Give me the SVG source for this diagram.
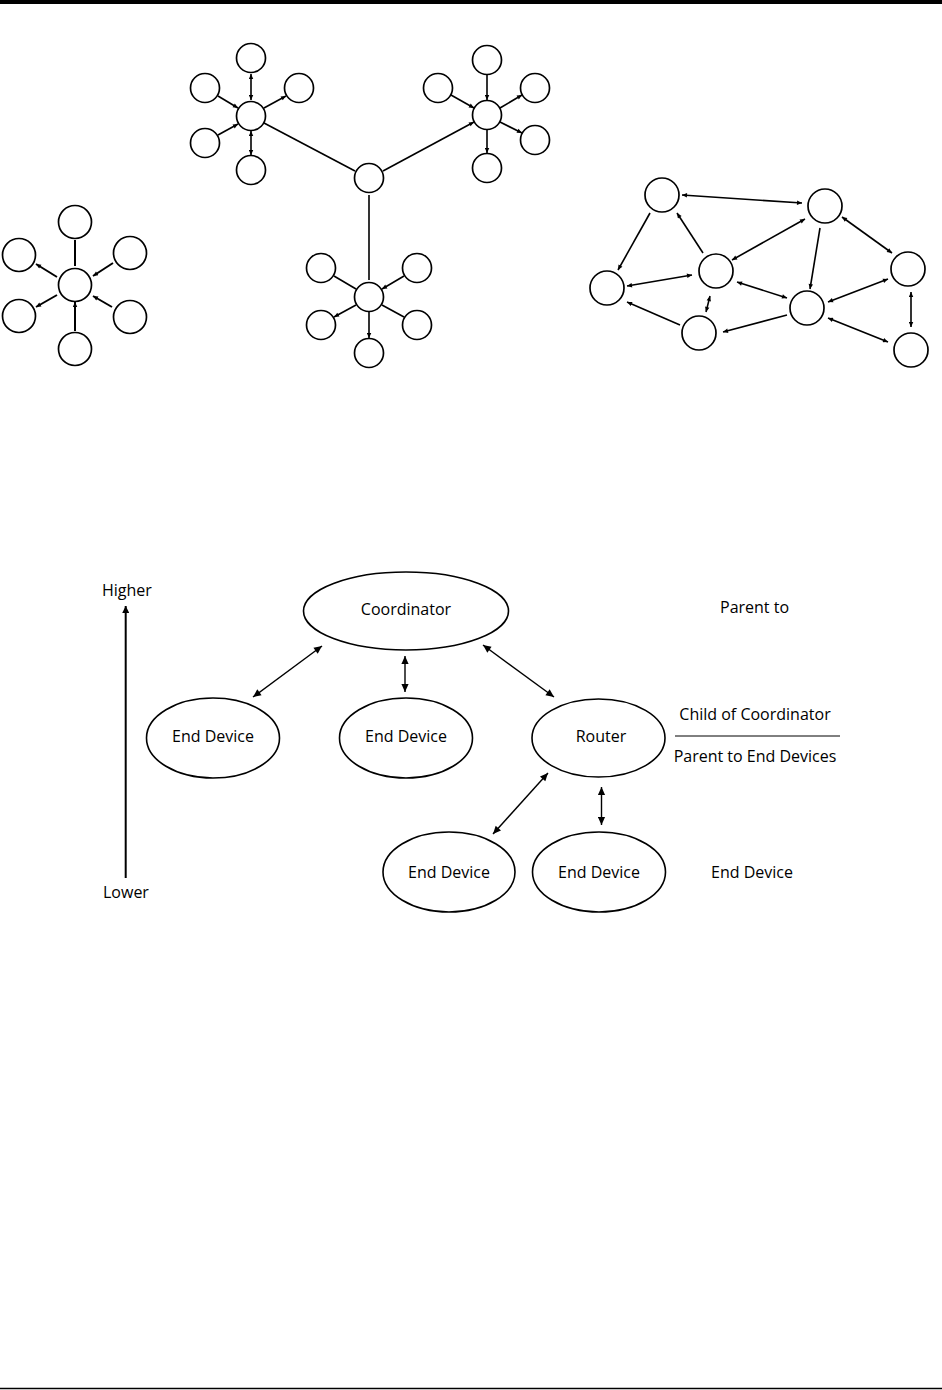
<svg xmlns="http://www.w3.org/2000/svg" width="942" height="1390" viewBox="0 0 942 1390">
<style>
.c{fill:#fff;stroke:#000;stroke-width:1.7}
.e{fill:#fff;stroke:#000;stroke-width:1.6}
.l{stroke:#000;stroke-width:1.6;fill:none}
.s{stroke:#000;stroke-width:2;fill:none}
.h{stroke:#000;stroke-width:1.4;fill:none}
.t{font-family:"Open Sans","Liberation Sans",sans-serif;font-size:16px;fill:#000}
.m{text-anchor:middle}
</style>
<defs>
<marker id="a" viewBox="0 0 10 10" refX="10" refY="5" markerWidth="6" markerHeight="5" markerUnits="userSpaceOnUse" orient="auto-start-reverse"><path d="M0,0.5 L10,5 L0,9.5 z" fill="#000"/></marker>
<marker id="b" viewBox="0 0 10 10" refX="10" refY="5" markerWidth="11" markerHeight="8" markerUnits="userSpaceOnUse" orient="auto-start-reverse"><path d="M0,0.5 L10,5 L0,9.5 z" fill="#000"/></marker>
<marker id="v" viewBox="0 0 10 10" refX="10" refY="5" markerWidth="12" markerHeight="7" markerUnits="userSpaceOnUse" orient="auto-start-reverse"><path d="M0,0 L10,5 L0,10 z" fill="#000"/></marker>
</defs>
<rect x="0" y="0" width="942" height="4" fill="#000"/>
<line x1="0" y1="1388.5" x2="942" y2="1388.5" stroke="#000" stroke-width="1.5"/>

<g id="connectors">
<!-- star -->
<line class="s" x1="75" y1="240" x2="75" y2="266"/>
<line class="s" x1="57" y1="277" x2="36" y2="264" marker-end="url(#a)"/>
<line class="s" x1="113" y1="263" x2="93" y2="276" marker-end="url(#a)"/>
<line class="s" x1="57" y1="295" x2="36" y2="307" marker-end="url(#a)"/>
<line class="s" x1="112" y1="307" x2="93" y2="296" marker-end="url(#a)"/>
<line class="s" x1="75" y1="331" x2="75" y2="302" marker-end="url(#a)"/>
<!-- cluster tree: top-left -->
<line class="l" x1="251" y1="74" x2="251" y2="100" marker-start="url(#a)" marker-end="url(#a)"/>
<line class="l" x1="218" y1="96" x2="238" y2="108" marker-end="url(#a)"/>
<line class="l" x1="264" y1="108" x2="286" y2="96" marker-end="url(#a)"/>
<line class="l" x1="218" y1="135" x2="238" y2="124" marker-end="url(#a)"/>
<line class="l" x1="251" y1="131" x2="251" y2="155" marker-start="url(#a)" marker-end="url(#a)"/>
<line class="l" x1="264" y1="123" x2="355" y2="171"/>
<!-- cluster tree: top-right -->
<line class="l" x1="487" y1="75" x2="487" y2="100" marker-end="url(#a)"/>
<line class="l" x1="451" y1="95" x2="474" y2="108" marker-end="url(#a)"/>
<line class="l" x1="500" y1="108" x2="522" y2="95" marker-end="url(#a)"/>
<line class="l" x1="500" y1="122" x2="522" y2="133" marker-end="url(#a)"/>
<line class="l" x1="487" y1="130" x2="487" y2="153" marker-end="url(#a)"/>
<line class="l" x1="383" y1="171" x2="474" y2="122" marker-end="url(#a)"/>
<!-- cluster tree: bottom -->
<line class="l" x1="369" y1="195" x2="369" y2="280"/>
<line class="l" x1="334" y1="276" x2="356" y2="289"/>
<line class="l" x1="404" y1="276" x2="382" y2="289" marker-end="url(#a)"/>
<line class="l" x1="356" y1="305" x2="334" y2="317" marker-end="url(#a)"/>
<line class="l" x1="382" y1="305" x2="404" y2="317"/>
<line class="l" x1="369" y1="312" x2="369" y2="338" marker-end="url(#a)"/>
<!-- mesh -->
<line class="l" x1="682" y1="195" x2="802" y2="203" marker-start="url(#a)" marker-end="url(#a)"/>
<line class="l" x1="650" y1="213" x2="618" y2="270" marker-end="url(#a)"/>
<line class="l" x1="703" y1="253" x2="677" y2="213" marker-end="url(#a)"/>
<line class="l" x1="627" y1="286" x2="692" y2="275" marker-start="url(#a)" marker-end="url(#a)"/>
<line class="l" x1="680" y1="325" x2="627" y2="302" marker-end="url(#a)"/>
<line class="l" x1="710" y1="296" x2="706" y2="312" marker-start="url(#a)" marker-end="url(#a)"/>
<line class="l" x1="732" y1="260" x2="805" y2="219" marker-start="url(#a)" marker-end="url(#a)"/>
<line class="l" x1="737" y1="282" x2="787" y2="298" marker-start="url(#a)" marker-end="url(#a)"/>
<line class="l" x1="787" y1="315" x2="723" y2="332" marker-end="url(#a)"/>
<line class="l" x1="820" y1="228" x2="810" y2="289" marker-end="url(#a)"/>
<line class="l" x1="842" y1="217" x2="892" y2="253" marker-start="url(#a)" marker-end="url(#a)"/>
<line class="l" x1="888" y1="279" x2="828" y2="302" marker-start="url(#a)" marker-end="url(#a)"/>
<line class="l" x1="888" y1="342" x2="828" y2="318" marker-start="url(#a)" marker-end="url(#a)"/>
<line class="l" x1="911" y1="292" x2="911" y2="327" marker-start="url(#a)" marker-end="url(#a)"/>
<!-- hierarchy -->
<line class="h" x1="322" y1="646" x2="253" y2="697" marker-start="url(#b)" marker-end="url(#b)"/>
<line class="h" x1="405" y1="656" x2="405" y2="692" marker-start="url(#b)" marker-end="url(#b)"/>
<line class="h" x1="483" y1="645" x2="554" y2="697" marker-start="url(#b)" marker-end="url(#b)"/>
<line class="h" x1="548" y1="773" x2="493" y2="834" marker-start="url(#b)" marker-end="url(#b)"/>
<line class="h" x1="601.5" y1="787" x2="601.5" y2="825" marker-start="url(#b)" marker-end="url(#b)"/>
<line x1="125.7" y1="878" x2="125.7" y2="606" stroke="#000" stroke-width="2" marker-end="url(#v)"/>
<line x1="675" y1="736" x2="840" y2="736" stroke="#000" stroke-width="1"/>
</g>

<g id="star">
<circle class="c" cx="75" cy="222" r="16.5"/>
<circle class="c" cx="19" cy="255" r="16.5"/>
<circle class="c" cx="130" cy="253" r="16.5"/>
<circle class="c" cx="75" cy="285" r="16.5"/>
<circle class="c" cx="19" cy="316" r="16.5"/>
<circle class="c" cx="130" cy="317" r="16.5"/>
<circle class="c" cx="75" cy="349" r="16.5"/>
</g>

<g id="cluster-tree">
<circle class="c" cx="251" cy="58" r="14.5"/>
<circle class="c" cx="205" cy="88" r="14.5"/>
<circle class="c" cx="299" cy="88" r="14.5"/>
<circle class="c" cx="251" cy="116" r="14.5"/>
<circle class="c" cx="205" cy="143" r="14.5"/>
<circle class="c" cx="251" cy="170" r="14.5"/>
<circle class="c" cx="369" cy="178" r="14.5"/>
<circle class="c" cx="487" cy="60" r="14.5"/>
<circle class="c" cx="438" cy="88" r="14.5"/>
<circle class="c" cx="535" cy="88" r="14.5"/>
<circle class="c" cx="487" cy="115" r="14.5"/>
<circle class="c" cx="535" cy="140" r="14.5"/>
<circle class="c" cx="487" cy="168" r="14.5"/>
<circle class="c" cx="321" cy="268" r="14.5"/>
<circle class="c" cx="417" cy="268" r="14.5"/>
<circle class="c" cx="369" cy="297" r="14.5"/>
<circle class="c" cx="321" cy="325" r="14.5"/>
<circle class="c" cx="417" cy="325" r="14.5"/>
<circle class="c" cx="369" cy="353" r="14.5"/>
</g>

<g id="mesh">
<circle class="c" cx="662" cy="195" r="17"/>
<circle class="c" cx="825" cy="206" r="17"/>
<circle class="c" cx="607" cy="288" r="17"/>
<circle class="c" cx="716" cy="271" r="17"/>
<circle class="c" cx="807" cy="308" r="17"/>
<circle class="c" cx="908" cy="269" r="17"/>
<circle class="c" cx="699" cy="333" r="17"/>
<circle class="c" cx="911" cy="350" r="17"/>
</g>

<g id="coordinator">
<ellipse class="e" cx="406" cy="611" rx="102.5" ry="39"/>
<text class="t m" x="406" y="615">Coordinator</text>
</g>
<g id="end-device-1">
<ellipse class="e" cx="213" cy="738" rx="66.5" ry="40"/>
<text class="t m" x="213" y="742">End Device</text>
</g>
<g id="end-device-2">
<ellipse class="e" cx="406" cy="738" rx="66.5" ry="40"/>
<text class="t m" x="406" y="742">End Device</text>
</g>
<g id="router">
<ellipse class="e" cx="598.5" cy="738" rx="66.5" ry="39"/>
<text class="t m" x="601" y="742">Router</text>
</g>
<g id="end-device-3">
<ellipse class="e" cx="449" cy="872" rx="66" ry="40"/>
<text class="t m" x="449" y="878">End Device</text>
</g>
<g id="end-device-4">
<ellipse class="e" cx="599" cy="872" rx="66.5" ry="40"/>
<text class="t m" x="599" y="878">End Device</text>
</g>

<g id="labels">
<text class="t" x="102" y="596">Higher</text>
<text class="t" x="103" y="898">Lower</text>
<text class="t" x="720" y="613">Parent to</text>
<text class="t m" x="755" y="720">Child of Coordinator</text>
<text class="t m" x="755" y="762">Parent to End Devices</text>
<text class="t" x="711" y="878">End Device</text>
</g>
</svg>
